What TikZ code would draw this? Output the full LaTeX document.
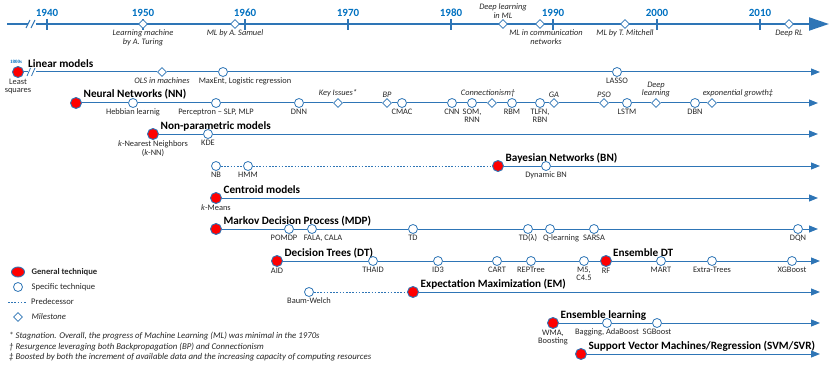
\documentclass[tikz,border=0pt]{standalone}
\usepackage{fontspec}
\setmainfont{Carlito}
\newfontfamily\serifyr{Liberation Serif}
\usetikzlibrary{arrows.meta,shapes.geometric,positioning}
\definecolor{lineblue}{RGB}{46,117,182}
\definecolor{yearblue}{RGB}{0,112,192}
\definecolor{txtgray}{RGB}{38,38,38}

\begin{document}
\begin{tikzpicture}[x=1pt,y=-1pt,
    gen/.style={circle,draw=lineblue,line width=0.9pt,fill=red,minimum size=11pt,inner sep=0pt},
    spec/.style={circle,draw=lineblue,line width=0.8pt,fill=white,minimum size=9pt,inner sep=0pt},
    mile/.style={diamond,draw=lineblue,line width=0.8pt,fill=white,minimum size=9pt,inner sep=0pt},
    row/.style={draw=lineblue,line width=1pt,-{Triangle[length=9pt,width=7pt]}},
    pred/.style={draw=lineblue,line width=0.8pt,dash pattern=on 1.6pt off 1.6pt},
    ttl/.style={font=\fontsize{11.2}{13}\selectfont\bfseries,inner sep=0pt,anchor=base west},
    yr/.style={font=\fontsize{11}{13}\selectfont\bfseries,text=yearblue,inner sep=0pt},
    lbl/.style={font=\fontsize{8.4}{8.6}\selectfont,align=center,inner sep=0.3pt,text=txtgray},
    lbli/.style={lbl,font=\fontsize{8.4}{8.6}\selectfont\itshape},
    lgd/.style={font=\fontsize{8.6}{9}\selectfont,inner sep=0pt,text=txtgray},
    fnote/.style={font=\fontsize{8.8}{9}\selectfont\itshape,inner sep=0pt,anchor=west,text=txtgray},
    every label/.style={lbl},
    label distance=0.3pt]
\useasboundingbox (0,0) rectangle (836,369);

% time axis
\coordinate (ax-s) at (7,24);
\coordinate (ax-e) at (829,24);
\draw[lineblue,line width=2pt,-{Triangle[length=20pt,width=13pt]}] (ax-s) -- (ax-e);
\fill[white] (28,19) rectangle (36,29);
\draw[lineblue,line width=1pt] (26,28) -- (30,20) (31,28) -- (35,20);
\foreach \x/\yr in {47/1940,143/1950,245/1960,348/1970,451/1980,553/1990,657/2000,760/2010}{
  \draw[lineblue,line width=1.2pt] (\x,19) -- (\x,30);
  \node[yr] (y\yr) at (\x,13) {\yr};
}
\node[mile,label distance=2pt,label={[lbli]below:Learning machine\\by A. Turing}] (turing) at (143,24) {};
\node[mile,label distance=2pt,label={[lbli]below:ML by A. Samuel}] (samuel) at (235,24) {};
\node[mile,label={[lbli]above:Deep learning\\in ML}] (dlml) at (503,24) {};
\node[mile,label distance=2pt,label={[lbli,xshift=6pt]below:ML in communication\\networks}] (mlcom) at (540,24) {};
\node[mile,label distance=2pt,label={[lbli]below:ML by T. Mitchell}] (mitchell) at (625,24) {};
\node[mile,label distance=2pt,label={[lbli]below:Deep RL}] (deeprl) at (789,24) {};

% Linear models
\node[gen,label={below:Least\\squares}] (ls) at (18,72) {};
\node[font=\fontsize{5}{6}\selectfont\serifyr\bfseries,text=yearblue,inner sep=0pt] (ls-yr) at (16,62) {1800s};
\node[ttl] (lin-t) at ([xshift=4pt,yshift=5pt]ls.east) {Linear models};
\node[mile,label={[lbli]below:OLS in machines}] (ols) at (162,72) {};
\node[spec,label={[xshift=22pt]below:{MaxEnt, Logistic regression}}] (maxent) at (223,72) {};
\node[spec,label={below:LASSO}] (lasso) at (617,72) {};
\coordinate (lin-e) at (820,72);
\draw[row] (ls) -- (ols) -- (maxent) -- (lasso) -- (lin-e);
\fill[white] (28,67) rectangle (36,77);
\draw[lineblue,line width=0.8pt] (27,76) -- (30.5,68) (31.5,76) -- (35,68);

% Neural networks
\node[gen] (nn) at (76,103) {};
\node[ttl] (nn-t) at ([xshift=1.5pt,yshift=5pt]nn.east) {Neural Networks (NN)};
\node[spec,label={below:Hebbian learnig}] (hebb) at (133,103) {};
\node[spec,label={below:{Perceptron -- SLP, MLP}}] (perc) at (216,103) {};
\node[spec,label={below:DNN}] (dnn) at (299,103) {};
\node[mile,label={[lbli]above:Key Issues*}] (keyiss) at (338,103) {};
\node[mile,label={[lbli]above:BP}] (bp) at (387,103) {};
\node[spec,label={below:CMAC}] (cmac) at (402,103) {};
\node[spec,label={below:CNN}] (cnn) at (452,103) {};
\node[spec,label={below:{SOM,\\RNN}}] (som) at (472,103) {};
\node[mile,label={[lbli,xshift=-4pt]above:Connectionism\textdagger}] (conn) at (492,103) {};
\node[spec,label={below:RBM}] (rbm) at (512,103) {};
\node[spec,label={below:{TLFN,\\RBN}}] (tlfn) at (540,103) {};
\node[mile,label={[lbli]above:GA}] (ga) at (554,103) {};
\node[mile,label={[lbli]above:PSO}] (pso) at (604,103) {};
\node[spec,label={below:LSTM}] (lstm) at (627,103) {};
\node[mile,label={[lbli]above:Deep\\learning}] (deepl) at (656,103) {};
\node[spec,label={below:DBN}] (dbn) at (695,103) {};
\node[mile,label={[lbli,xshift=26pt]above:exponential growth\textdaggerdbl}] (expg) at (712,103) {};
\coordinate (nn-e) at (818,103);
\draw[row] (nn) -- (hebb) -- (perc) -- (dnn) -- (keyiss) -- (bp) -- (cmac) -- (cnn) -- (som) -- (conn)
  -- (rbm) -- (tlfn) -- (ga) -- (pso) -- (lstm) -- (deepl) -- (dbn) -- (expg) -- (nn-e);

% Non-parametric
\node[gen,label={below:\textit{k}-Nearest Neighbors\\(\textit{k}-NN)}] (knn) at (153,134) {};
\node[ttl] (np-t) at ([xshift=1.5pt,yshift=5pt]knn.east) {Non-parametric models};
\node[spec,label={below:KDE}] (kde) at (208,134) {};
\coordinate (np-e) at (818,134);
\draw[row] (knn) -- (kde) -- (np-e);

% Bayesian networks
\node[spec,label={below:NB}] (nb) at (216,166) {};
\node[spec,label={below:HMM}] (hmm) at (248,166) {};
\node[gen] (bn) at (498,166) {};
\node[ttl] (bn-t) at ([xshift=1.5pt,yshift=5pt]bn.east) {Bayesian Networks (BN)};
\node[spec,label={below:Dynamic BN}] (dynbn) at (546,166) {};
\coordinate (bn-e) at (820,166);
\draw[pred] (nb) -- (hmm) -- (bn);
\draw[row] (bn) -- (dynbn) -- (bn-e);

% Centroid
\node[gen,label={below:\textit{k}-Means}] (kmeans) at (216,198) {};
\node[ttl] (cen-t) at ([xshift=1.5pt,yshift=5pt]kmeans.east) {Centroid models};
\coordinate (cen-e) at (818,198);
\draw[row] (kmeans) -- (cen-e);

% MDP
\node[gen] (mdp) at (216,229) {};
\node[ttl] (mdp-t) at ([xshift=1.5pt,yshift=5pt]mdp.east) {Markov Decision Process (MDP)};
\node[spec,label={[xshift=-5pt]below:POMDP}] (pomdp) at (289,229) {};
\node[spec,label={[xshift=11pt]below:{FALA, CALA}}] (fala) at (312,229) {};
\node[spec,label={below:TD}] (td) at (413,229) {};
\node[spec,label={below:TD(λ)}] (tdl) at (528,229) {};
\node[spec,label={[xshift=11pt]below:Q-learning}] (ql) at (550,229) {};
\node[spec,label={below:SARSA}] (sarsa) at (594,229) {};
\node[spec,label={below:DQN}] (dqn) at (798,229) {};
\coordinate (mdp-e) at (818,229);
\draw[row] (mdp) -- (pomdp) -- (fala) -- (td) -- (tdl) -- (ql) -- (sarsa) -- (dqn) -- (mdp-e);

% Decision trees
\node[gen,label={below:AID}] (aid) at (277,261) {};
\node[ttl] (dt-t) at ([xshift=1.5pt,yshift=5pt]aid.east) {Decision Trees (DT)};
\node[spec,label={below:THAID}] (thaid) at (373,261) {};
\node[spec,label={below:ID3}] (id3) at (438,261) {};
\node[spec,label={below:CART}] (cart) at (497,261) {};
\node[spec,label={below:REPTree}] (rep) at (531,261) {};
\node[spec,label={below:{M5,\\C4.5}}] (m5) at (584,261) {};
\node[gen,label={below:RF}] (rf) at (606,261) {};
\node[ttl] (edt-t) at ([xshift=1pt,yshift=5pt]rf.east) {Ensemble DT};
\node[spec,label={below:MART}] (mart) at (661,261) {};
\node[spec,label={below:Extra-Trees}] (extra) at (712,261) {};
\node[spec,label={below:XGBoost}] (xgb) at (792,261) {};
\coordinate (dt-e) at (820,261);
\draw[row] (aid) -- (thaid) -- (id3) -- (cart) -- (rep) -- (m5) -- (rf) -- (mart) -- (extra) -- (xgb) -- (dt-e);

% EM
\node[spec,label={below:Baum-Welch}] (baum) at (309,292) {};
\node[gen] (em) at (413,292) {};
\node[ttl] (em-t) at ([xshift=1.5pt,yshift=5pt]em.east) {Expectation Maximization (EM)};
\coordinate (em-e) at (820,292);
\draw[pred] (baum) -- (em);
\draw[row] (em) -- (em-e);

% Ensemble learning
\node[gen,label={below:{WMA,\\Boosting}}] (wma) at (553,323) {};
\node[ttl] (ens-t) at ([xshift=1.5pt,yshift=5pt]wma.east) {Ensemble learning};
\node[spec,label={below:{Bagging, AdaBoost}}] (bag) at (607,323) {};
\node[spec,label={below:SGBoost}] (sgb) at (657,323) {};
\coordinate (ens-e) at (820,323);
\draw[row] (wma) -- (bag) -- (sgb) -- (ens-e);

% SVM
\node[gen] (svm) at (581,354) {};
\node[ttl] (svm-t) at ([xshift=1.5pt,yshift=5pt]svm.east) {Support Vector Machines/Regression (SVM/SVR)};
\coordinate (svm-e) at (820,354);
\draw[row] (svm) -- (svm-e);

% legend
\node[gen,ellipse,minimum width=13pt,minimum height=10pt] (lg-gen) at (18,272) {};
\node[lgd,font=\fontsize{8.6}{9}\selectfont\bfseries,right=6.5pt of lg-gen] (lg-gen-t) {General technique};
\node[spec] (lg-spec) at (18,287) {};
\node[lgd,right=8.5pt of lg-spec] (lg-spec-t) {Specific technique};
\coordinate (lg-p1) at (8,302);
\coordinate (lg-p2) at (26,302);
\draw[pred] (lg-p1) -- (lg-p2);
\node[lgd,right=5pt of lg-p2] (lg-pred-t) {Predecessor};
\node[mile] (lg-mile) at (18,317) {};
\node[lgd,font=\fontsize{8.6}{9}\selectfont\itshape,right=8.5pt of lg-mile] (lg-mile-t) {Milestone};

% footnotes
\node[fnote] (fn1) at (9,336) {* Stagnation. Overall,  the progress of  Machine Learning (ML) was minimal in the 1970s};
\node[fnote] (fn2) at (9,347) {\textdagger{} Resurgence leveraging both Backpropagation (BP) and Connectionism};
\node[fnote] (fn3) at (9,357) {\textdaggerdbl{} Boosted by both the increment of available data and the increasing capacity of computing  resources};
\end{tikzpicture}
\end{document}
